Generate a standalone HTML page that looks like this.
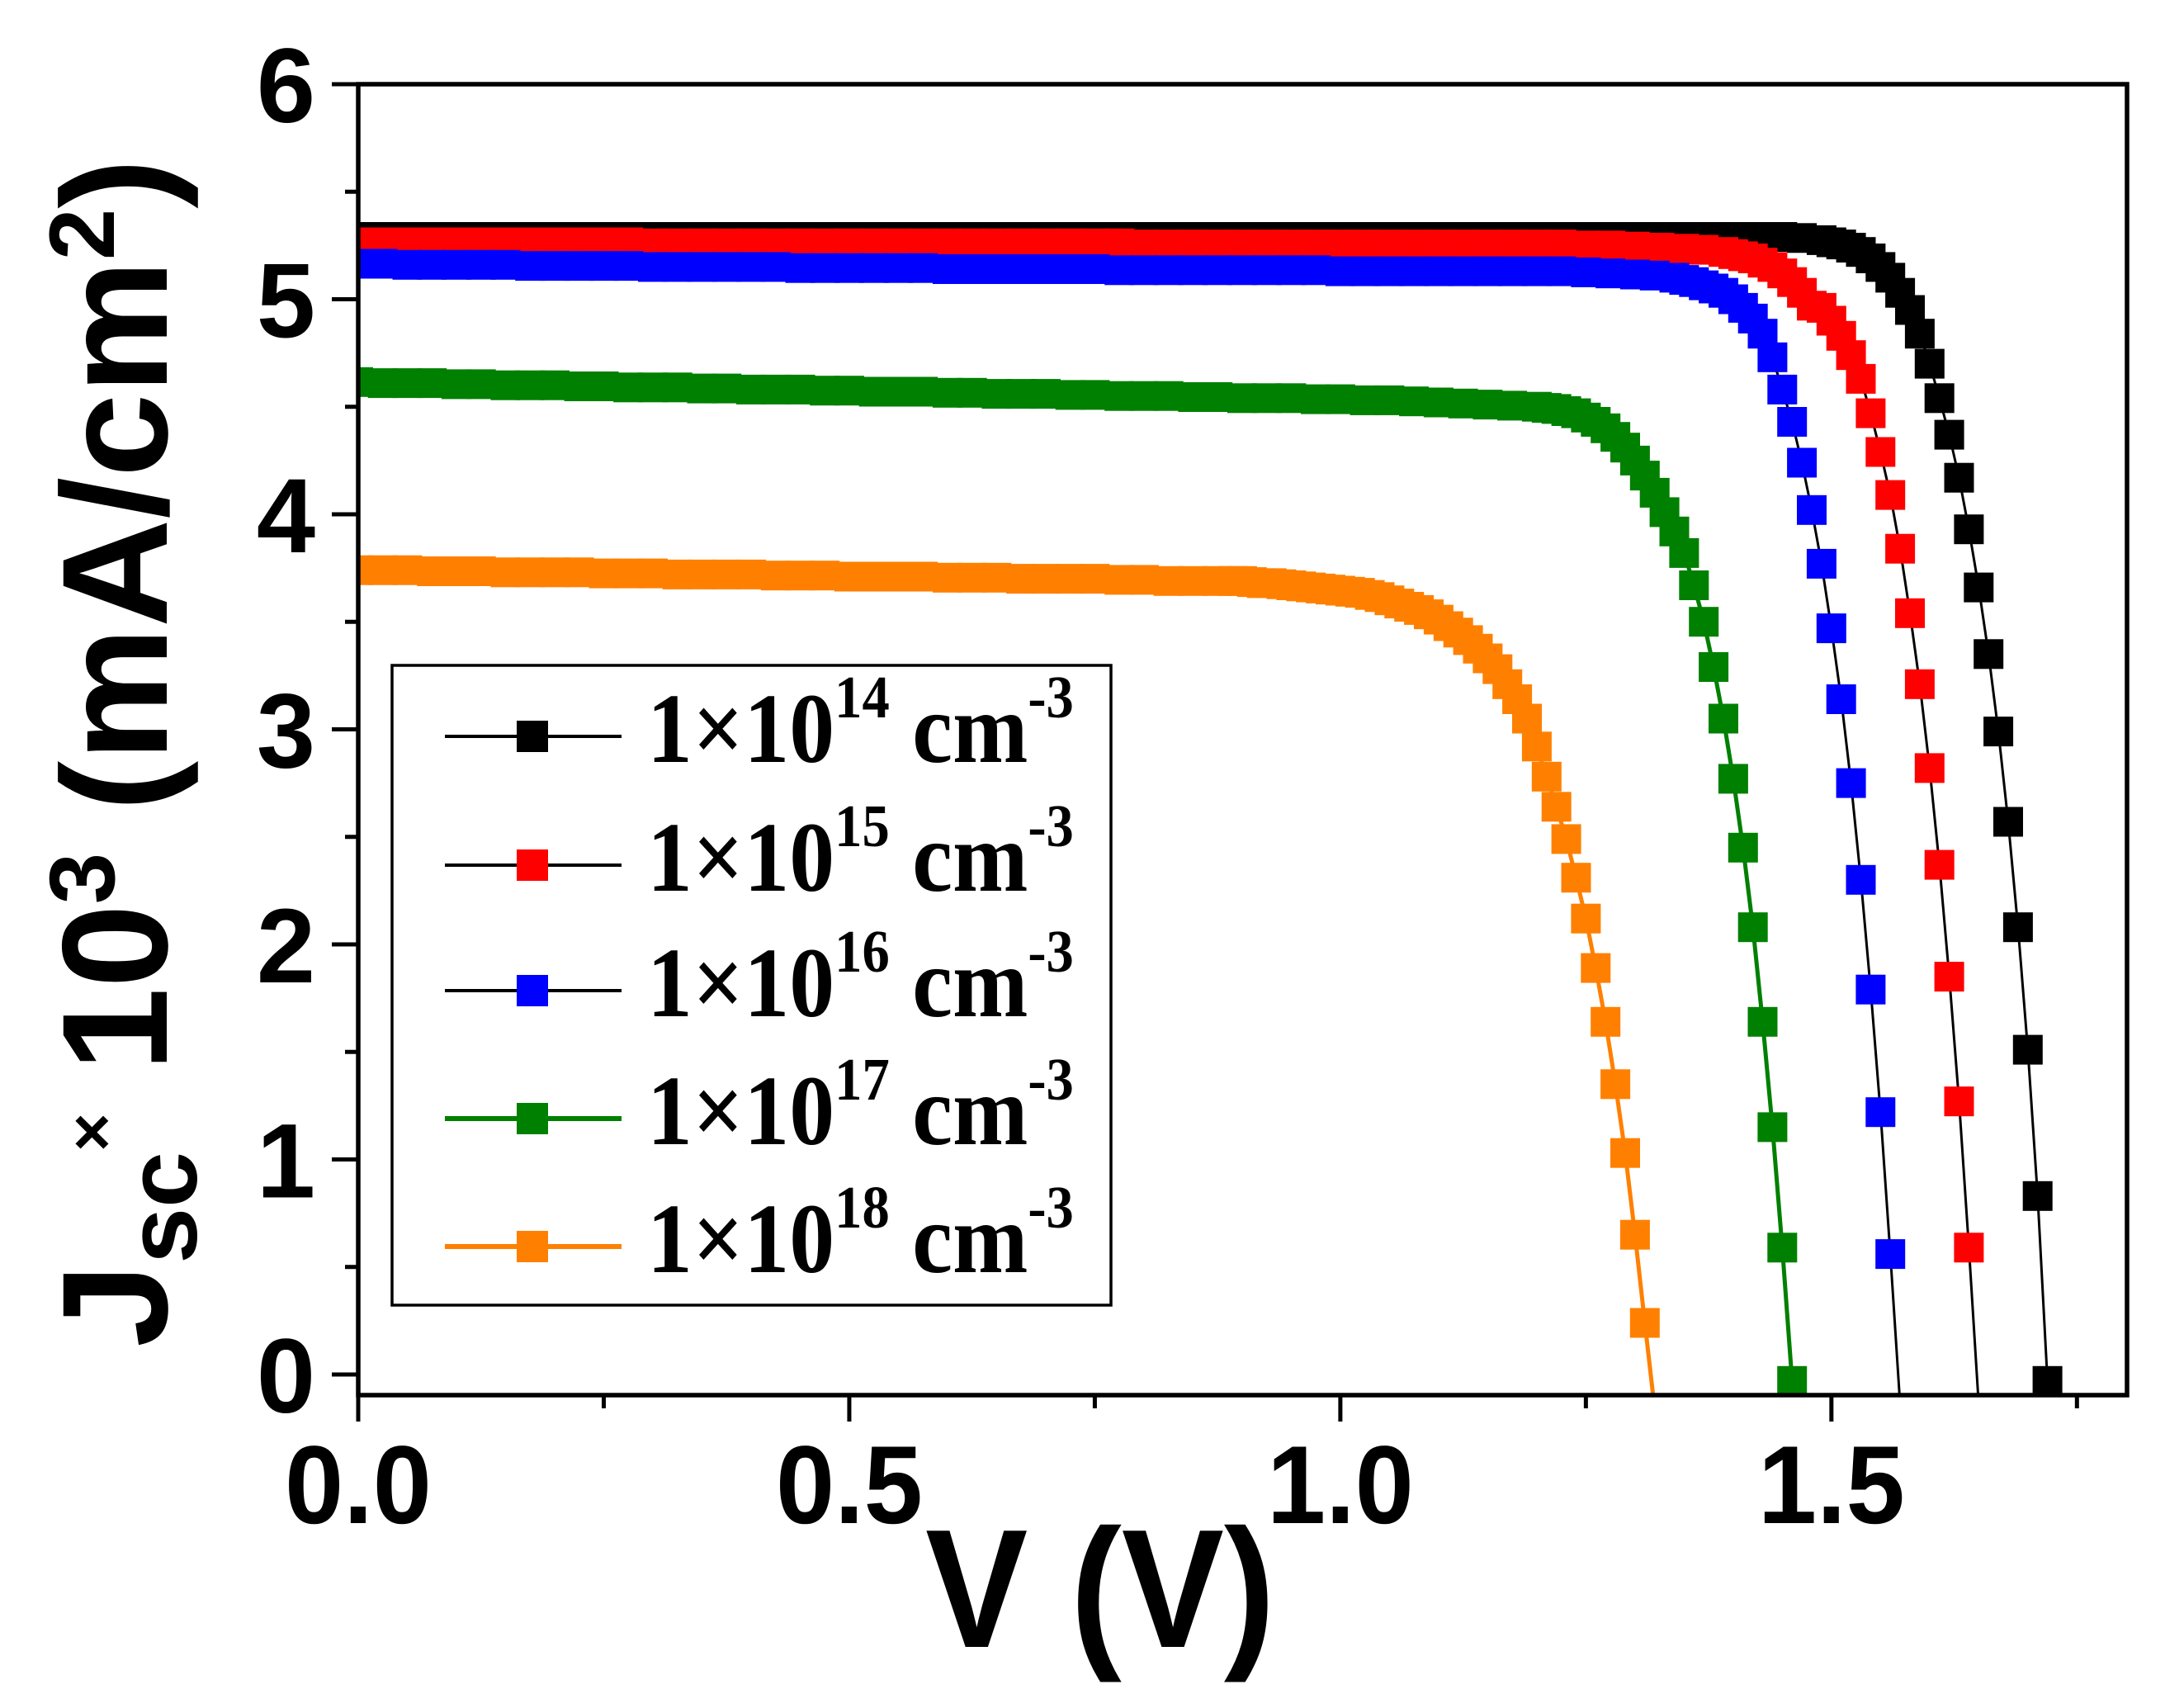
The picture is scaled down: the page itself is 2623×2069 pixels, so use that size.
<!DOCTYPE html>
<html><head><meta charset="utf-8"><style>
html,body{margin:0;padding:0;background:#fff;}
svg{display:block;}
</style></head><body>
<svg id="chart" width="2623" height="2069" viewBox="0 0 2623 2069" xmlns="http://www.w3.org/2000/svg">
<rect x="0" y="0" width="2623" height="2069" fill="#fff"/>
<g id="series"></g>
<rect x="434" y="102" width="2143" height="1588" fill="none" stroke="#000" stroke-width="5.5"/>
<g id="axes"></g>
<text x="1333" y="1995" text-anchor="middle" font-family="Liberation Sans, Arial, sans-serif" font-weight="bold" font-size="186" transform="translate(1333 1995) scale(1 1.1) translate(-1333 -1995)">V (V)</text>
<text x="0" y="0" text-anchor="middle" font-family="Liberation Sans, Arial, sans-serif" font-weight="bold" font-size="182" transform="translate(202 912) rotate(-90)">J<tspan font-size="122" dy="36">sc</tspan><tspan font-size="80" dy="-100">×</tspan><tspan dy="64"> 10</tspan><tspan font-size="112" dy="-64">3</tspan><tspan dy="64"> (mA/cm</tspan><tspan font-size="112" dy="-64">2</tspan><tspan dy="64">)</tspan></text>
<g id="legend">
<rect x="475" y="806" width="871" height="775" fill="#fff" stroke="#000" stroke-width="3.5"/>
</g>
</svg>
<script>
const xMin = 0, xMax = 1.801, yMin = -0.096, yMax = 6.0;
const xTicks = [0, 0.5, 1.0, 1.5];
const xTickLabels = ["0.0", "0.5", "1.0", "1.5"];
const xMinorTicks = [0.25, 0.75, 1.25, 1.75];
const yTicks = [0, 1, 2, 3, 4, 5, 6];
const yTickLabels = ["0", "1", "2", "3", "4", "5", "6"];
const yMinorTicks = [0.5, 1.5, 2.5, 3.5, 4.5, 5.5];

const seriesNames = ["1×10", "1×10", "1×10", "1×10", "1×10"];
const seriesExponents = ["14", "15", "16", "17", "18"];
const seriesColors = ["#000000", "#ff0000", "#0000ff", "#008000", "#ff8000"];
const lineColors = ["#000000", "#000000", "#000000", "#008000", "#ff8000"];

const vFlat = [0,0.025,0.05,0.075,0.1,0.125,0.15,0.175,0.2,0.225,0.25,0.275,0.3,0.325,0.35,0.375,0.4,0.425,0.45,0.475,0.5,0.525,0.55,0.575,0.6,0.625,0.65,0.675,0.7,0.725,0.75,0.775,0.8,0.825,0.85,0.875,0.9,0.925,0.95,0.975,1.0,1.025,1.05,1.075,1.1,1.125,1.15,1.175,1.2];
const vFlatShort = [0,0.025,0.05,0.075,0.1,0.125,0.15,0.175,0.2,0.225,0.25,0.275,0.3,0.325,0.35,0.375,0.4,0.425,0.45,0.475,0.5,0.525,0.55,0.575,0.6,0.625,0.65,0.675,0.7,0.725,0.75,0.775,0.8,0.825,0.85,0.875];

const jFlat14 = [5.29,5.29,5.29,5.29,5.29,5.29,5.29,5.29,5.29,5.29,5.29,5.29,5.29,5.29,5.29,5.29,5.29,5.29,5.29,5.29,5.29,5.29,5.29,5.29,5.29,5.29,5.29,5.29,5.29,5.29,5.29,5.29,5.29,5.29,5.29,5.29,5.29,5.29,5.29,5.29,5.29,5.29,5.29,5.29,5.29,5.29,5.29,5.29,5.29];
const vKnee14 = [1.225,1.25,1.275,1.3,1.325,1.35,1.375,1.4,1.425,1.45,1.47,1.49,1.5,1.51,1.52,1.53,1.54,1.55,1.56,1.57,1.58,1.59,1.6,1.61,1.62,1.63,1.64,1.65,1.66,1.67,1.68,1.69,1.7,1.71,1.72];
const jKnee14 = [5.29,5.29,5.29,5.29,5.29,5.29,5.29,5.29,5.29,5.29,5.285,5.275,5.265,5.255,5.24,5.22,5.19,5.15,5.10,5.03,4.95,4.84,4.70,4.54,4.37,4.17,3.93,3.66,3.35,2.99,2.57,2.08,1.51,0.83,-0.03];

const jFlat15 = [5.265,5.265,5.265,5.265,5.265,5.265,5.265,5.265,5.265,5.265,5.265,5.265,5.26,5.26,5.26,5.26,5.26,5.26,5.26,5.26,5.26,5.26,5.26,5.26,5.26,5.26,5.26,5.26,5.26,5.26,5.26,5.26,5.255,5.255,5.255,5.255,5.255,5.255,5.255,5.255,5.255,5.255,5.255,5.255,5.255,5.255,5.255,5.255,5.255];
const vKnee15 = [1.225,1.25,1.275,1.3,1.325,1.35,1.37,1.39,1.4,1.41,1.42,1.43,1.44,1.45,1.46,1.47,1.48,1.49,1.5,1.51,1.52,1.53,1.54,1.55,1.56,1.57,1.58,1.59,1.6,1.61,1.62,1.63,1.64,1.65];
const jKnee15 = [5.255,5.25,5.25,5.245,5.24,5.235,5.23,5.22,5.21,5.20,5.19,5.17,5.15,5.12,5.08,5.03,4.97,4.96,4.90,4.83,4.74,4.63,4.47,4.29,4.09,3.84,3.54,3.21,2.82,2.37,1.85,1.27,0.59,-0.14];

const jFlat16 = [5.165,5.165,5.16,5.16,5.16,5.16,5.16,5.155,5.155,5.155,5.155,5.155,5.15,5.15,5.15,5.15,5.15,5.15,5.145,5.145,5.145,5.145,5.145,5.145,5.14,5.14,5.14,5.14,5.14,5.14,5.14,5.135,5.135,5.135,5.135,5.135,5.135,5.135,5.135,5.135,5.13,5.13,5.13,5.13,5.13,5.13,5.13,5.13,5.13];
const vKnee16 = [1.225,1.25,1.275,1.3,1.32,1.34,1.35,1.36,1.37,1.38,1.39,1.4,1.41,1.42,1.43,1.44,1.45,1.46,1.47,1.48,1.49,1.5,1.51,1.52,1.53,1.54,1.55,1.56,1.57];
const jKnee16 = [5.13,5.125,5.12,5.115,5.11,5.10,5.09,5.08,5.065,5.05,5.03,5.00,4.96,4.91,4.84,4.73,4.58,4.43,4.24,4.02,3.77,3.47,3.14,2.75,2.30,1.79,1.22,0.56,-0.14];

const jFlat17 = [4.615,4.61,4.61,4.61,4.605,4.605,4.60,4.60,4.60,4.595,4.595,4.59,4.59,4.59,4.585,4.585,4.58,4.58,4.58,4.575,4.575,4.57,4.57,4.57,4.565,4.565,4.56,4.56,4.56,4.555,4.555,4.55,4.55,4.55,4.545,4.545,4.54,4.54,4.54,4.535,4.535,4.53,4.53,4.525,4.52,4.515,4.51,4.505,4.50];
const vKnee17 = [1.21,1.22,1.23,1.24,1.25,1.26,1.27,1.28,1.29,1.3,1.31,1.32,1.33,1.34,1.35,1.36,1.37,1.38,1.39,1.4,1.41,1.42,1.43,1.44,1.45,1.46];
const jKnee17 = [4.495,4.49,4.48,4.47,4.45,4.43,4.40,4.36,4.31,4.25,4.18,4.10,4.01,3.92,3.82,3.67,3.50,3.29,3.05,2.77,2.45,2.08,1.64,1.15,0.59,-0.03];

const jFlat18 = [3.74,3.74,3.74,3.735,3.735,3.735,3.73,3.73,3.73,3.73,3.725,3.725,3.725,3.72,3.72,3.72,3.72,3.715,3.715,3.715,3.71,3.71,3.71,3.71,3.705,3.705,3.705,3.70,3.70,3.70,3.70,3.695,3.695,3.69,3.69,3.69];
const vKnee18 = [0.89,0.9,0.91,0.92,0.93,0.94,0.95,0.96,0.97,0.98,0.99,1.0,1.01,1.02,1.03,1.04,1.05,1.06,1.07,1.08,1.09,1.1,1.11,1.12,1.13,1.14,1.15,1.16,1.17,1.18,1.19,1.2,1.21,1.22,1.23,1.24,1.25,1.26,1.27,1.28,1.29,1.3,1.31,1.32];
const jKnee18 = [3.69,3.69,3.685,3.68,3.68,3.675,3.67,3.665,3.66,3.655,3.65,3.645,3.64,3.635,3.625,3.615,3.60,3.585,3.57,3.555,3.535,3.51,3.48,3.45,3.415,3.375,3.33,3.28,3.21,3.14,3.05,2.92,2.78,2.64,2.49,2.31,2.12,1.89,1.64,1.35,1.03,0.65,0.24,-0.16];

const PL = 434, PR = 2577, PT = 102, PB = 1690;
function xs(v){ return PL + (v - xMin) / (xMax - xMin) * (PR - PL); }
function ys(j){ return PB - (j - yMin) / (yMax - yMin) * (PB - PT); }

const NS = "http://www.w3.org/2000/svg";
const svg = document.getElementById("chart");
const seriesLayer = document.getElementById("series");
const axes = document.getElementById("axes");
function mk(tag, attrs, parent){
  const el = document.createElementNS(NS, tag);
  for (const k in attrs) el.setAttribute(k, attrs[k]);
  parent.appendChild(el);
  return el;
}

const defs = mk("defs", {}, svg);
const cp = mk("clipPath", {id: "plotclip"}, defs);
mk("rect", {x: PL, y: PT, width: PR - PL, height: PB - PT}, cp);
seriesLayer.setAttribute("clip-path", "url(#plotclip)");

const allSeries = [
  [vFlat.concat(vKnee14), jFlat14.concat(jKnee14)],
  [vFlat.concat(vKnee15), jFlat15.concat(jKnee15)],
  [vFlat.concat(vKnee16), jFlat16.concat(jKnee16)],
  [vFlat.concat(vKnee17), jFlat17.concat(jKnee17)],
  [vFlatShort.concat(vKnee18), jFlat18.concat(jKnee18)]
];
const lineW = [3, 3, 3, 5, 5];
const M = 36;

allSeries.forEach(function(s, i){
  const g = mk("g", {}, seriesLayer);
  
  
  const pts = s[0].map(function(v, k){ return xs(v).toFixed(1) + "," + ys(s[1][k]).toFixed(1); }).join(" ");
  const pl = mk("polyline", {points: pts, fill: "none", stroke: lineColors[i], "stroke-width": lineW[i]}, g);
  
  
  s[0].forEach(function(v, k){
    if (s[1][k] < yMin) return;
    const r = mk("rect", {x: (xs(v) - M/2).toFixed(1), y: (ys(s[1][k]) - M/2).toFixed(1), width: M, height: M, fill: seriesColors[i]}, g);
    
    
  });
});

const FONT = "Liberation Sans, Arial, sans-serif";
xTicks.forEach(function(v, i){
  const t = mk("line", {x1: xs(v), x2: xs(v), y1: PB, y2: PB + 32, stroke: "#000", "stroke-width": 5}, axes);
  
  
  const tx = mk("text", {x: xs(v), y: 1845, "text-anchor": "middle", "font-family": FONT, "font-weight": "bold", "font-size": 128, transform: "translate(" + xs(v) + " 1845) scale(1 1.05) translate(" + (-xs(v)) + " -1845)"}, axes);
  tx.textContent = xTickLabels[i];
  
  
});
xMinorTicks.forEach(function(v){
  const t = mk("line", {x1: xs(v), x2: xs(v), y1: PB, y2: PB + 16, stroke: "#000", "stroke-width": 5}, axes);
  
  
});
yTicks.forEach(function(v, i){
  const t = mk("line", {x1: PL - 32, x2: PL, y1: ys(v), y2: ys(v), stroke: "#000", "stroke-width": 5}, axes);
  
  
  const tx = mk("text", {x: 382, y: ys(v) + 46, "text-anchor": "end", "font-family": FONT, "font-weight": "bold", "font-size": 128}, axes);
  tx.textContent = yTickLabels[i];
  
  
});
yMinorTicks.forEach(function(v){
  const t = mk("line", {x1: PL - 16, x2: PL, y1: ys(v), y2: ys(v), stroke: "#000", "stroke-width": 5}, axes);
  
  
});

const legend = document.getElementById("legend");
const rowsY = [892, 1048, 1200, 1355, 1510];
seriesNames.forEach(function(n, i){
  const g = mk("g", {}, legend);
  
  
  const y = rowsY[i];
  const l = mk("line", {x1: 539, x2: 753, y1: y, y2: y, stroke: lineColors[i], "stroke-width": lineW[i] + 1}, g);
  
  
  const r = mk("rect", {x: 626, y: y - 19, width: 38, height: 38, fill: seriesColors[i]}, g);
  
  
  const t = mk("text", {x: 784, y: y + 31, "font-family": "Liberation Serif, Times New Roman, serif", "font-weight": "bold", "font-size": 112, transform: "translate(784 " + (y + 31) + ") scale(0.98 1.08) translate(-784 " + (-(y + 31)) + ")"}, g);
  
  
  const a = mk("tspan", {}, t); a.textContent = n;
  const b = mk("tspan", {"font-size": 68, dy: -50}, t); b.textContent = seriesExponents[i];
  const c = mk("tspan", {dy: 50}, t); c.textContent = " cm";
  const d = mk("tspan", {"font-size": 68, dy: -50}, t); d.textContent = "-3";
});
</script>
</body></html>
